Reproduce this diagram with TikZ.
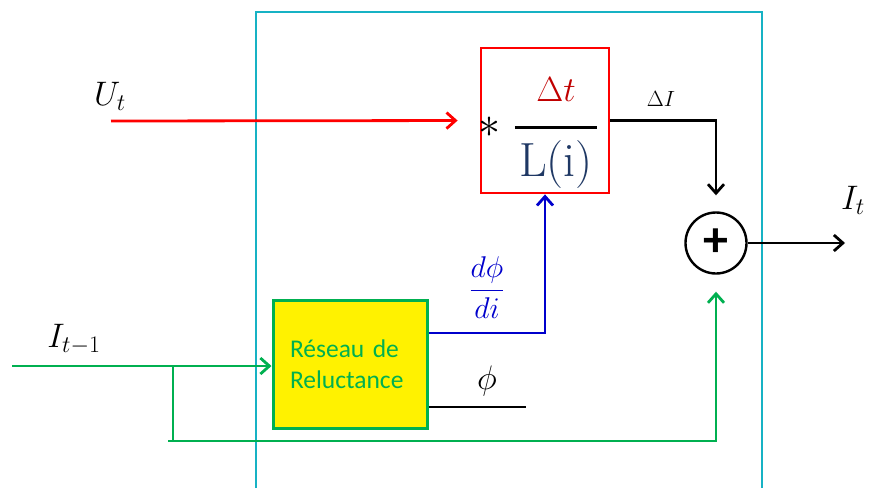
\RequirePackage{fix-cm}
\documentclass[tikz,border=0pt]{standalone}
\usepackage{amsmath,amssymb}
\usepackage{fontspec}
\usepackage{tikz}
\usetikzlibrary{shapes,arrows,arrows.meta,positioning}
\newfontfamily\calib{Carlito}
\definecolor{framecyan}{RGB}{23,178,196}
\definecolor{darkred}{RGB}{192,0,0}
\definecolor{navyblue}{RGB}{31,56,100}
\definecolor{sigblue}{RGB}{0,0,204}
\definecolor{siggreen}{RGB}{0,176,80}

\begin{document}
\begin{tikzpicture}[x=1pt,y=-1pt, line width=2.8pt, >={Straight Barb[length=9pt,width=16pt]},
    every node/.style={inner sep=3pt},
    big/.style={font=\fontsize{34}{40}\selectfont},
    small/.style={font=\fontsize{22}{26}\selectfont}]
        \useasboundingbox (0,0) rectangle (871,488);
        \draw[framecyan,line width=2.5pt] (256,488) -- (256,12) -- (762,12) -- (762,488);
        \node[draw=red,minimum width=128pt,minimum height=145pt] (mult) at (545,120.5) {};
        \node[anchor=base,text=darkred,font=\fontsize{35}{40}\selectfont] (dt) at (556,101) {$\Delta t$};
        \node[anchor=base,text=navyblue,font=\fontsize{48}{56}\selectfont] (Li) at (556,176) {L(i)};
        \coordinate (bar) at (556,127);
        \draw[line width=3pt] (Li.west |- bar) -- (Li.east |- bar);
        \node[font=\fontsize{44}{50}\selectfont] (star) at (489,127) {$\ast$};
        \node[small] (dI) at (661,99) {$\Delta I$};
        \node[circle,draw,line width=2.4pt,minimum size=61pt,inner sep=0pt] (sum) at (716,243) {\calib\fontsize{50}{50}\selectfont\bfseries +};
        \node[draw=siggreen,fill=yellow,line width=3pt,minimum width=154pt,minimum height=128pt,text width=120pt,align=left,text=siggreen,font=\calib\fontsize{25.5}{31}\selectfont] (res) at (350,364) {Réseau de\\Reluctance};
        \node[big] (Ut) at (110,96) {$U_t$};
        \node[big] (It1) at (74,339) {$I_{t-1}$};
        \node[big] (It) at (853,200) {$I_t$};
        \node[text=sigblue,font=\fontsize{30}{36}\selectfont] (dphi) at (487,288) {$\dfrac{d\phi}{di}$};
        \node[big] (phi) at (487,381) {$\phi$};
        \coordinate (uin) at (111,121);
        \coordinate (out) at (845,243);
        \coordinate (phiend) at (526,407);
        \coordinate (gin) at (12,366);
        \coordinate (br) at (173,366);
        \coordinate (fb) at (173,441);
        \draw[red,->,shorten >=22pt] (uin) -- (mult.west);
        \draw[->,shorten >=16pt] (mult.east) -| (sum.north);
        \draw[->] (sum) -- (out);
        \draw[sigblue,->] ([yshift=31pt]res.east) -| (mult.south);
        \draw ([yshift=-43pt]res.east) -- (phiend);
        \draw[siggreen,->] (gin) -- (res.west |- gin);
        \draw[siggreen] (br) -- (fb);
        \draw[siggreen,->,shorten >=17pt] ([xshift=-5pt]fb) -| (sum.south);
    \end{tikzpicture}
\end{document}
